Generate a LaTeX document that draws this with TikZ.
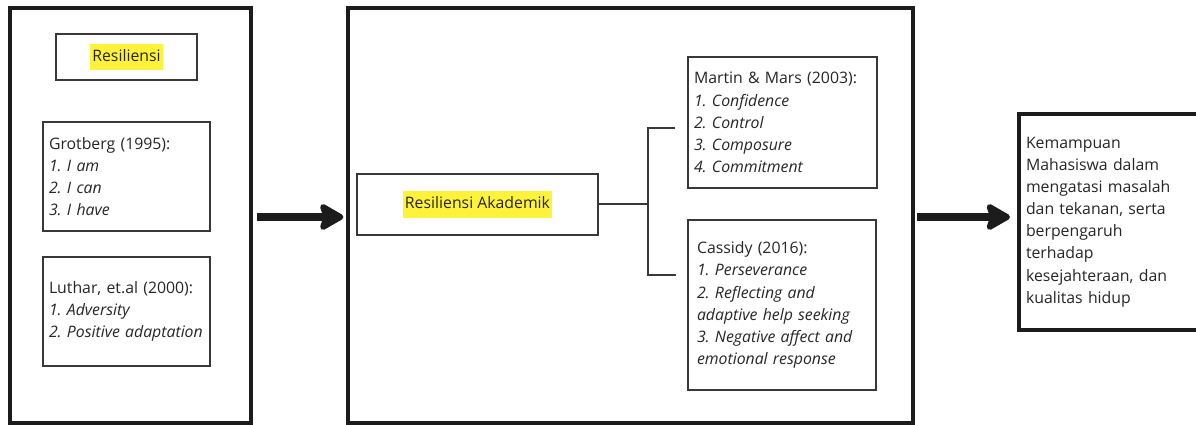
\documentclass[tikz,border=0pt]{standalone}
\usepackage{fontspec}
\setmainfont{Open Sans}
\usetikzlibrary{arrows.meta,calc}
\frenchspacing
\definecolor{hl}{HTML}{FFF23A}
\definecolor{txt}{HTML}{262626}
\definecolor{thin}{HTML}{383838}
\definecolor{thick}{HTML}{1C1C1C}
\newcommand{\hlt}[1]{{\setlength\fboxsep{1.2pt}\colorbox{hl}{\strut #1}}}
\tikzset{
  px/.style={x=0.02cm,y=-0.02cm},
  bigbox/.style={draw=thick,line width=2.3pt,fill=none,inner sep=0pt},
  smallbox/.style={draw=thin,line width=1pt,fill=white,inner xsep=0.12cm,inner ysep=0pt,
    align=left,text=txt,font=\fontsize{9}{12.6}\selectfont},
  titlebox/.style={draw=thin,line width=1pt,fill=white,align=center,text=txt,
    font=\fontsize{9}{12.6}\selectfont},
  bigarrow/.style={draw=thick,line width=4.5pt,-{Stealth[length=16pt,width=18pt,inset=3pt,round]}},
  link/.style={draw=thin,line width=1pt}
}
\begin{document}
\begin{tikzpicture}[px]
\useasboundingbox (0,0) rectangle (1196,425);
\clip (0,0) rectangle (1196,425);
\fill[white] (0,0) rectangle (1196,425);
% outer boxes
\node[bigbox,minimum width=4.82cm,minimum height=8.3cm] (L) at (130.5,215.5) {};
\node[bigbox,minimum width=11.3cm,minimum height=8.3cm] (M) at (630.5,215.5) {};
\node[bigbox,anchor=north west,minimum width=4cm,minimum height=4.32cm,
  inner xsep=0.14cm,inner ysep=0pt,align=left,text=txt,font=\fontsize{9}{12.6}\selectfont,
  text width=3.72cm] (K) at (1017,112)
  {\mbox{Kemampuan}\\\mbox{Mahasiswa dalam}\\\mbox{mengatasi masalah}\\\mbox{dan tekanan, serta}\\\mbox{berpengaruh}\\\mbox{terhadap}\\\mbox{kesejahteraan, dan}\\\mbox{kualitas hidup}};
% left content
\node[titlebox,minimum width=2.82cm,minimum height=0.92cm] (R) at (126.5,57) {\hlt{Resiliensi}};
\node[smallbox,minimum width=3.34cm,minimum height=2.18cm,text width=3.1cm] (G) at (126.5,176.5)
  {Grotberg (1995):\\\textit{1. I am}\\\textit{2. I can}\\\textit{3. I have}};
\node[smallbox,minimum width=3.34cm,minimum height=2.18cm,text width=3.1cm] (Lu) at (126.5,311.5)
  {\mbox{Luthar, et.al (2000):}\\\textit{1. Adversity}\\\mbox{\textit{2. Positive adaptation}}};
% middle content
\node[titlebox,minimum width=4.82cm,minimum height=1.22cm] (A) at (477.5,204.5) {\hlt{Resiliensi Akademik}};
\node[smallbox,minimum width=3.78cm,minimum height=2.62cm,text width=3.54cm] (Ma) at (782.5,122.5)
  {\mbox{Martin \& Mars (2003):}\\\textit{1. Confidence}\\\textit{2. Control}\\\textit{3. Composure}\\\textit{4. Commitment}};
\node[smallbox,minimum width=3.76cm,minimum height=3.4cm,inner xsep=0.18cm,text width=3.4cm] (C) at (782,305)
  {Cassidy (2016):\\\textit{1. Perseverance}\\\mbox{\textit{2. Reflecting and}}\\\mbox{\textit{adaptive help seeking}}\\\mbox{\textit{3. Negative affect and}}\\\mbox{\textit{emotional response}}};
% connectors
\coordinate (J) at (648,204);
\coordinate (t1) at (675,128);
\coordinate (t2) at (676,275);
\draw[link] (A.east |- J) -- (J);
\draw[link] (t1) -- (t1 -| J) -- (t2 -| J) -- (t2);
\draw[bigarrow,shorten <=2pt,shorten >=1.5pt] (L.east |- 0,217) -- (M.west |- 0,217);
\draw[bigarrow,shorten <=1pt,shorten >=4pt] (M.east |- 0,217) -- (K.west |- 0,217);
\end{tikzpicture}
\end{document}
